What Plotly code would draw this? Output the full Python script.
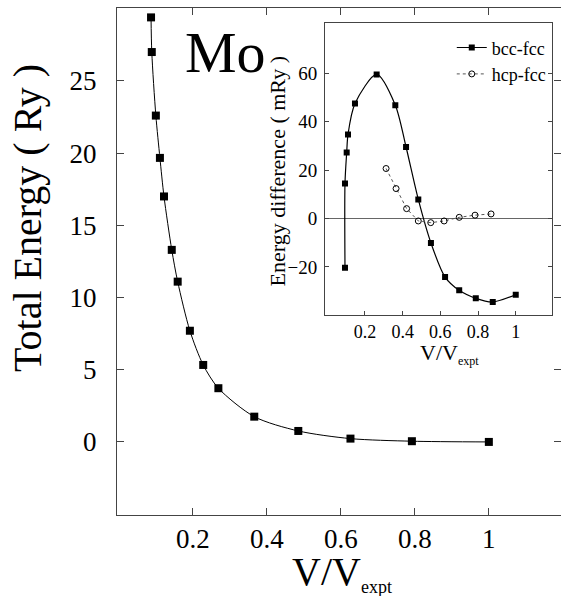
import plotly.graph_objects as go

# Main panel: total energy vs V/Vexpt
main_v = [0.087, 0.089, 0.100, 0.111, 0.122, 0.143, 0.159, 0.192, 0.228, 0.269, 0.366, 0.485, 0.626, 0.792, 1.000]
main_e = [29.4, 27.0, 22.6, 19.67, 17.0, 13.3, 11.1, 7.7, 5.33, 3.72, 1.75, 0.76, 0.23, 0.05, 0.0]

# Inset: energy differences (mRy)
bcc_v = [0.094, 0.094, 0.103, 0.110, 0.147, 0.262, 0.361, 0.418, 0.483, 0.550, 0.625, 0.700, 0.788, 0.878, 1.000]
bcc_e = [-20.4, 14.5, 27.3, 34.8, 47.6, 59.6, 46.9, 29.6, 7.9, -10.1, -24.2, -29.7, -33.0, -34.5, -31.5]
hcp_v = [0.312, 0.365, 0.421, 0.483, 0.549, 0.620, 0.700, 0.784, 0.869]
hcp_e = [20.7, 12.4, 4.1, -1.0, -1.7, -1.0, 0.5, 1.4, 1.9]

main_xticks = [0.2, 0.4, 0.6, 0.8, 1.0]
main_xlabels = ["0.2", "0.4", "0.6", "0.8", "1"]
main_yticks = [0, 5, 10, 15, 20, 25]
inset_yticks = [-20, 0, 20, 40, 60]

FONT = "Liberation Serif, Times New Roman, serif"
AX = "#444"

fig = go.Figure()
fig.add_trace(go.Scatter(x=main_v, y=main_e, mode="lines+markers",
                         line=dict(color="black", width=1, shape="spline", smoothing=0.8),
                         marker=dict(symbol="square", size=8, color="black"),
                         showlegend=False, xaxis="x", yaxis="y"))
fig.add_trace(go.Scatter(x=bcc_v, y=bcc_e, mode="lines+markers", name="bcc-fcc",
                         line=dict(color="black", width=1.2, shape="spline", smoothing=0.8),
                         marker=dict(symbol="square", size=6, color="black"),
                         xaxis="x2", yaxis="y2"))
fig.add_trace(go.Scatter(x=hcp_v, y=hcp_e, mode="lines+markers", name="hcp-fcc",
                         line=dict(color="#555", width=1, dash="dot"),
                         marker=dict(symbol="circle-open", size=6, color="black", line=dict(width=1)),
                         xaxis="x2", yaxis="y2"))

fig.update_layout(
    width=561, height=596,
    margin=dict(l=117, r=0, t=8, b=81),
    paper_bgcolor="white", plot_bgcolor="white",
    font=dict(family=FONT, color="black"),
    xaxis=dict(domain=[0, 1], range=[-0.005, 1.195], tickvals=main_xticks, ticktext=main_xlabels,
               ticks="inside", ticklen=7, tickcolor=AX, showline=True, linecolor=AX, linewidth=1,
               mirror="ticks", showgrid=False, zeroline=False,
               tickfont=dict(size=27, family=FONT, color="black"), ticklabelstandoff=0),
    yaxis=dict(domain=[0, 1], range=[-5.06, 30.05], tickvals=main_yticks,
               ticks="inside", ticklen=7, tickcolor=AX, showline=True, linecolor=AX, linewidth=1,
               mirror="ticks", showgrid=False, zeroline=False,
               tickfont=dict(size=27, family=FONT, color="black"), ticklabelstandoff=14),
    xaxis2=dict(domain=[0.4685, 0.98], range=[-0.012, 1.193], anchor="y2",
                tickvals=main_xticks, ticktext=main_xlabels,
                ticks="inside", ticklen=4, tickcolor=AX, showline=True, linecolor=AX, linewidth=1,
                mirror=True, showgrid=False, zeroline=False,
                tickfont=dict(size=18, family=FONT, color="black"), ticklabelstandoff=0),
    yaxis2=dict(domain=[0.394, 0.970], range=[-40, 80.8], anchor="x2", tickvals=inset_yticks,
                ticks="inside", ticklen=4, tickcolor=AX, showline=True, linecolor=AX, linewidth=1,
                mirror="ticks", showgrid=False, zeroline=True, zerolinecolor="#666", zerolinewidth=1,
                tickfont=dict(size=19, family=FONT, color="black"), ticklabelstandoff=3),
    legend=dict(x=0.754, y=0.958, xanchor="left", yanchor="top", bgcolor="rgba(0,0,0,0)",
                font=dict(size=18, family=FONT), itemwidth=30, tracegroupgap=4),
    annotations=[
        dict(text="Total Energy ( Ry )", xref="paper", yref="paper", x=-0.2, y=0.586,
             xanchor="center", yanchor="middle", textangle=-90, showarrow=False,
             font=dict(size=40, family=FONT)),
        dict(text="V/V<sub><span style='font-size:18px'>expt</span></sub>", xref="paper", yref="paper",
             x=0.507, y=-0.114, xanchor="center", yanchor="middle", showarrow=False,
             font=dict(size=40, family=FONT)),
        dict(text="Mo", xref="paper", yref="paper", x=0.245, y=0.913,
             xanchor="center", yanchor="middle", showarrow=False,
             font=dict(size=58, family=FONT)),
        dict(text="Energy difference ( mRy )", xref="paper", yref="paper", x=0.362, y=0.677,
             xanchor="center", yanchor="middle", textangle=-90, showarrow=False,
             font=dict(size=22, family=FONT)),
        dict(text="V/V<sub><span style='font-size:12px'>expt</span></sub>", xref="paper", yref="paper",
             x=0.748, y=0.318, xanchor="center", yanchor="middle", showarrow=False,
             font=dict(size=22, family=FONT)),
    ],
)

fig.write_html("out.html")
